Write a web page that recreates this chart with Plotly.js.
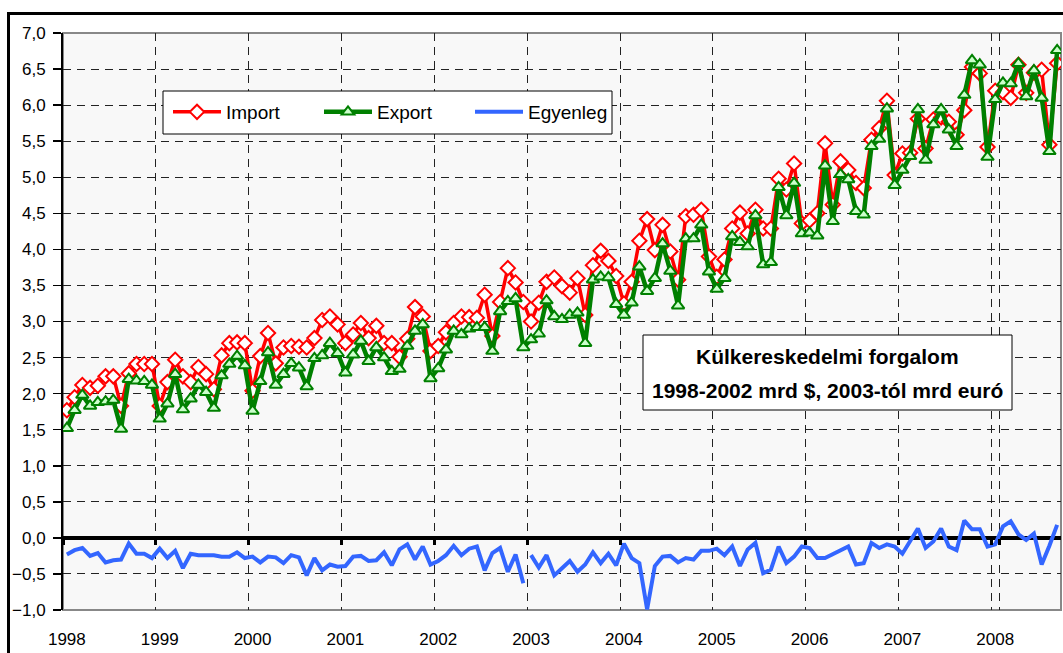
<!DOCTYPE html>
<html><head><meta charset="utf-8">
<script src="https://cdn.plot.ly/plotly-3.0.1.min.js"></script>
<style>
html,body{margin:0;padding:0;background:#fff;overflow:hidden}
#chart{width:1063px;height:653px;position:absolute;left:0;top:0}
#frame{position:absolute;left:7px;top:12px;width:1080px;height:680px;border:3px solid #000;pointer-events:none}
</style></head><body>
<div id="chart"></div><div id="frame"></div>
<script>
// ---- data ----
const years = [1998,1999,2000,2001,2002,2003,2004,2005,2006,2007,2008];
const lastMonth = '2008-09';
const months = [];
for (const y of years) { for (let m = 1; m <= 12; m++) { const k = y + '-' + String(m).padStart(2,'0'); if (k <= lastMonth) months.push(k); } }

const importVals = [
 1.77,1.95,2.12,2.08,2.11,2.24,2.24,1.83,2.28,2.41,2.41,2.41,
 1.83,2.16,2.47,2.24,2.16,2.37,2.27,2.06,2.53,2.70,2.71,2.70,
 2.04,2.52,2.84,2.42,2.64,2.66,2.65,2.64,2.77,3.02,3.07,2.96,
 2.70,2.82,2.98,2.77,2.94,2.70,2.70,2.51,2.76,3.20,3.07,2.59,
 2.66,2.85,2.98,3.07,3.06,3.05,3.37,2.80,3.27,3.74,3.54,3.27,
 3.00,3.26,3.55,3.61,3.49,3.40,3.60,3.09,3.78,3.98,3.84,3.63,
 3.25,3.55,4.12,4.42,3.99,4.34,3.97,3.58,4.46,4.48,4.55,3.90,
 3.62,3.86,4.29,4.51,4.22,4.55,4.29,4.29,4.98,4.83,5.19,4.36,
 4.40,4.50,5.47,4.62,5.22,5.10,4.92,4.85,5.52,5.68,6.06,5.03,
 5.33,5.34,5.81,5.40,5.80,5.83,5.77,5.59,5.93,6.53,6.44,5.42,
 6.20,6.18,6.10,6.56,6.17,6.45,6.49,5.45,6.58];
const exportVals = [
 1.52,1.77,1.98,1.83,1.88,1.89,1.91,1.51,2.20,2.18,2.17,2.12,
 1.65,1.86,2.27,1.78,1.93,2.12,2.02,1.80,2.25,2.41,2.52,2.39,
 1.76,2.17,2.57,2.12,2.27,2.42,2.36,2.10,2.49,2.53,2.70,2.56,
 2.29,2.54,2.73,2.45,2.64,2.50,2.31,2.34,2.66,2.87,2.96,2.21,
 2.35,2.61,2.87,2.82,2.90,2.92,2.92,2.59,3.14,3.28,3.32,2.64,
 2.75,2.83,3.29,3.07,3.03,3.09,3.12,2.70,3.58,3.62,3.61,3.24,
 3.09,3.26,3.76,3.42,3.60,4.08,3.70,3.22,4.15,4.15,4.34,3.69,
 3.45,3.60,4.18,4.10,4.04,4.47,3.79,3.82,4.86,4.47,4.92,4.22,
 4.23,4.19,5.16,4.39,5.04,4.97,4.53,4.48,5.43,5.53,5.95,4.89,
 5.10,5.29,5.94,5.24,5.73,5.94,5.66,5.43,6.14,6.62,6.56,5.28,
 6.08,6.31,6.30,6.58,6.12,6.48,6.10,5.36,6.76];
// Egyenleg: 1998-2002 (mrd $) and 2003- (mrd euro) drawn as separate segments
const balance1998_2002 = [
 -0.23,-0.17,-0.14,-0.25,-0.21,-0.34,-0.31,-0.30,-0.08,-0.22,-0.22,-0.28,
 -0.15,-0.28,-0.18,-0.42,-0.22,-0.24,-0.24,-0.24,-0.26,-0.26,-0.20,-0.28,
 -0.26,-0.34,-0.26,-0.27,-0.35,-0.24,-0.27,-0.52,-0.28,-0.45,-0.37,-0.40,
 -0.39,-0.26,-0.25,-0.32,-0.31,-0.20,-0.38,-0.16,-0.09,-0.30,-0.12,-0.37,
 -0.32,-0.24,-0.11,-0.24,-0.15,-0.12,-0.45,-0.21,-0.14,-0.47,-0.23,-0.63];
const balance2003_2008 = [
 -0.24,-0.41,-0.24,-0.52,-0.42,-0.32,-0.47,-0.37,-0.20,-0.35,-0.22,-0.38,
 -0.08,-0.28,-0.35,-0.99,-0.39,-0.26,-0.25,-0.34,-0.28,-0.30,-0.18,-0.18,
 -0.15,-0.24,-0.12,-0.39,-0.16,-0.07,-0.49,-0.44,-0.12,-0.35,-0.26,-0.12,
 -0.14,-0.28,-0.28,-0.23,-0.17,-0.12,-0.37,-0.35,-0.07,-0.14,-0.09,-0.12,
 -0.22,-0.05,0.13,-0.14,-0.05,0.13,-0.12,-0.17,0.24,0.12,0.12,-0.12,
 -0.09,0.16,0.23,0.05,-0.03,0.06,-0.37,-0.11,0.18];
const seriesNames = ['Import','Export','Egyenleg'];
const yearTickVals = years.map(y => y + '-01');
const yearTickText = years.map(String);
const boxTitle = ['Külkereskedelmi forgalom', '1998-2002 mrd $, 2003-tól mrd euró'];

const monthsA = months.slice(0, balance1998_2002.length);
const monthsB = months.slice(balance1998_2002.length);

const traces = [
 {x: months, y: importVals, name: seriesNames[0], type:'scatter', mode:'lines+markers', xaxis:'x', yaxis:'y',
  line:{color:'#ff0000', width:3.5}, marker:{symbol:'diamond', size:11, color:'#ffffff', line:{color:'#ff0000', width:2}}},
 {x: months, y: exportVals, name: seriesNames[1], type:'scatter', mode:'lines+markers', xaxis:'x', yaxis:'y',
  line:{color:'#008000', width:4.5}, marker:{symbol:'triangle-up', size:11, color:'#ccffcc', line:{color:'#008000', width:2}}},
 {x: monthsA, y: balance1998_2002, name: seriesNames[2], legendgroup:'bal', type:'scatter', mode:'lines', xaxis:'x2', yaxis:'y',
  line:{color:'#3366ff', width:4}},
 {x: monthsB, y: balance2003_2008, name: seriesNames[2], legendgroup:'bal', showlegend:false, type:'scatter', mode:'lines', xaxis:'x2', yaxis:'y',
  line:{color:'#3366ff', width:4}}
];

const L = 63, R = 1061, T = 33, B = 610;
const W = R - L, H = B - T;
const px = v => (v - L) / W, py = v => (B - v) / H;
const gridDash = '8px,6px';

const layout = {
 width:1063, height:653,
 margin:{l:L, r:1063-R, t:T, b:653-B},
 paper_bgcolor:'#ffffff', plot_bgcolor:'#f8f8f8',
 separators:', ',
 font:{family:'"Liberation Sans", Arial, sans-serif', color:'#000', size:16},
 showlegend:true,
 xaxis:{type:'category', categoryorder:'array', categoryarray:months, range:[-0.5, months.length-0.5],
   tickmode:'array', tickvals:yearTickVals, ticktext:yearTickText, tickson:'boundaries', tickangle:0,
   showgrid:true, gridcolor:'#222', gridwidth:1, griddash:gridDash, ticks:'', showline:false, zeroline:false,
   tickfont:{size:17}, ticklabelstandoff:17, fixedrange:true},
 xaxis2:{type:'category', categoryorder:'array', categoryarray:months, range:[-0.5, months.length-0.5],
   overlaying:'x', anchor:'free', position:0.125, side:'bottom', tickangle:0,
   tickmode:'array', tickvals:yearTickVals, tickson:'boundaries',
   ticks:'outside', ticklen:6, tickwidth:3, tickcolor:'#000', showticklabels:false, showgrid:false, zeroline:false, showline:false},
 yaxis:{range:[-1,7], tick0:-1, dtick:0.5, tickformat:'.1f', showgrid:true, gridcolor:'#222', gridwidth:1, griddash:gridDash,
   zeroline:true, zerolinecolor:'#000', zerolinewidth:3.5, showline:true, linecolor:'#000', linewidth:2,
   ticks:'outside', ticklen:8, tickwidth:1.5, tickcolor:'#000', tickfont:{size:17}, ticklabelstandoff:4},
 legend:{orientation:'h', x:px(168), y:py(93), xanchor:'left', yanchor:'top', bgcolor:'rgba(0,0,0,0)', borderwidth:0,
   font:{size:19}, entrywidth:88, itemwidth:48},
 shapes:[
  {type:'rect', xref:'paper', yref:'paper', x0:0, x1:1, y0:0, y1:1, line:{color:'#888', width:2}, layer:'below'},
  {type:'rect', xref:'paper', yref:'paper', x0:px(163), x1:px(612), y0:py(134), y1:py(91), fillcolor:'#fff', line:{color:'#000', width:1}, layer:'above'},
  {type:'rect', xref:'paper', yref:'paper', x0:px(643), x1:px(1012), y0:py(410), y1:py(335), fillcolor:'#fff', line:{color:'#000', width:1}, layer:'above'}
 ],
 annotations:[
  {xref:'paper', yref:'paper', x:px(827), y:py(357), text:'<b>'+boxTitle[0]+'</b>', showarrow:false, font:{size:21}, xanchor:'center', yanchor:'middle'},
  {xref:'paper', yref:'paper', x:px(827), y:py(390), text:'<b>'+boxTitle[1]+'</b>', showarrow:false, font:{size:21}, xanchor:'center', yanchor:'middle'}
 ]
};
Plotly.newPlot('chart', traces, layout, {displayModeBar:false, staticPlot:true});
</script></body></html>
